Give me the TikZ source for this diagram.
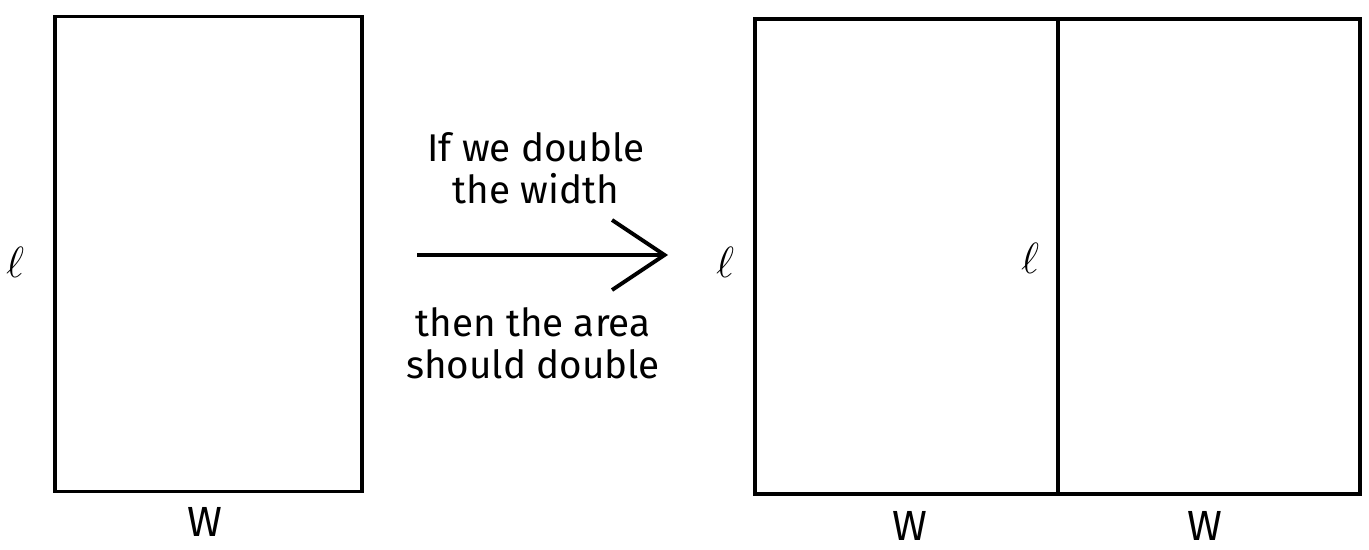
\documentclass[tikz,border=0pt]{standalone}
\usepackage{fontspec}
\setmainfont{Fira Sans}
\usetikzlibrary{arrows.meta}
\begin{document}
\begin{tikzpicture}[x=0.02cm,y=-0.02cm,
    every node/.style={font=\fontsize{22}{24}\selectfont},
    box/.style={draw,line width=2.2pt,minimum height=9.5cm,inner sep=0pt},
    lab/.style={font=\fontsize{30}{30}\selectfont},
    wlab/.style={font=\fontsize{24}{24}\selectfont,inner sep=0pt}]
        \useasboundingbox (0,0) rectangle (1369,550);
        % links: oorspronkelijke rechthoek
        \node[box,minimum width=6.14cm] (rectA) at (208.5,254) {};
        \node[lab] (lA) at (15,262) {$\ell$};
        \node[wlab] (wA) at (205,522) {W};
        % midden: pijl met tekst
        \coordinate (arrS) at (417,255);
        \coordinate (arrE) at (668,255);
        \draw[line width=2.2pt,-{Straight Barb[length=1.05cm,width=1.4cm,line width=2.2pt]}] (arrS) -- (arrE);
        \node[align=center] (txtA) at (536,168) {If we double\\the width};
        \node[align=center] (txtB) at (533,343) {then the area\\should double};
        % rechts: dubbele breedte
        \node[box,minimum width=6.06cm] (rectB) at (906.5,256.5) {};
        \node[box,minimum width=6.04cm] (rectC) at (1209,256.5) {};
        \node[lab] (lB) at (725,262) {$\ell$};
        \node[lab] (lC) at (1030,258) {$\ell$};
        \node[wlab] (wB) at (910,526) {W};
        \node[wlab] (wC) at (1205,526) {W};
      \end{tikzpicture}
\end{document}
